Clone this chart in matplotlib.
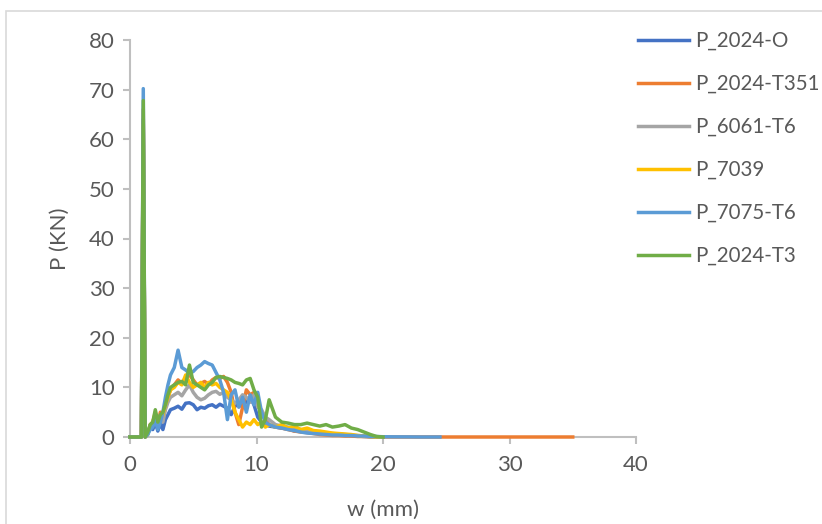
import numpy as np
import matplotlib.pyplot as plt
from matplotlib.patches import Rectangle

# displacement grid shared by most series (mm)
w_base = [0, 0.9, 1.05, 1.2, 1.4, 1.6, 1.8, 2.0, 2.2, 2.4, 2.6, 2.8, 3.0, 3.2, 3.5, 3.8,
          4.1, 4.4, 4.7, 5.0, 5.3, 5.6, 5.9, 6.2, 6.5, 6.8, 7.1, 7.4, 7.7, 8.0, 8.3, 8.6,
          8.9, 9.2, 9.5, 9.8, 10.1, 10.4, 10.7, 11.0, 11.5, 12.0, 12.5, 13.0, 13.5, 14.0,
          14.5, 15.0, 15.5, 16.0, 16.5, 17.0, 17.5, 18.0, 18.5, 19.0, 19.5, 20.0]
w_t351 = w_base + [25.0, 35.0]
w_7075 = w_base + [21.0, 22.0, 23.0, 24.5]

# loads (kN)
p_2024_o = [0, 0, 64, 0, 0.5, 2.5, 1.5, 3.0, 1.2, 2.8, 1.5, 3.5, 4.5, 5.5, 5.8, 6.2,
            5.6, 6.8, 6.9, 6.5, 5.5, 6.0, 5.8, 6.3, 6.5, 6.0, 6.6, 6.2, 5.8, 4.5, 6.2, 6.8,
            6.0, 7.2, 8.0, 6.5, 4.0, 3.0, 2.6, 2.2, 2.0, 1.8, 1.6, 1.2, 1.4, 1.0,
            0.8, 0.9, 0.6, 0.5, 0.6, 0.4, 0.3, 0.2, 0.1, 0.05, 0, 0]
p_2024_t351 = [0, 0, 66, 0, 1.0, 2.0, 3.0, 4.5, 2.5, 5.0, 3.5, 6.0, 8.0, 9.5, 10.5, 11.5,
               10.8, 12.0, 12.5, 11.5, 10.5, 10.8, 11.2, 10.6, 11.5, 12.0, 11.8, 12.2, 11.0, 9.0, 5.0, 2.5,
               6.0, 9.5, 8.5, 9.0, 6.5, 5.0, 3.5, 2.5, 2.0, 1.8, 1.5, 1.2, 1.0, 0.9,
               0.7, 0.5, 0.4, 0.3, 0.3, 0.2, 0.2, 0.1, 0.1, 0.05, 0, 0, 0, 0]
p_6061_t6 = [0, 0, 62, 0, 0.8, 2.0, 2.5, 4.0, 2.0, 4.5, 3.0, 5.5, 7.0, 8.0, 8.5, 9.0,
             8.3, 9.5, 10.5, 9.0, 8.0, 7.5, 7.8, 8.5, 9.0, 9.2, 8.6, 9.0, 8.0, 7.5, 6.8, 7.5,
             8.5, 8.0, 7.0, 8.5, 6.0, 5.5, 4.0, 3.5, 2.5, 2.2, 2.0, 1.8, 1.5, 1.4,
             1.2, 1.0, 0.8, 0.7, 0.6, 0.5, 0.4, 0.3, 0.2, 0.1, 0, 0]
p_7039 = [0, 0, 63, 0, 0.5, 2.5, 3.0, 5.0, 2.0, 4.0, 4.5, 6.5, 8.0, 9.5, 10.0, 11.0,
          10.5, 12.5, 11.0, 10.0, 10.5, 11.0, 10.0, 11.0, 10.5, 10.8, 10.0, 9.5, 9.0, 7.5, 5.0, 3.5,
          2.0, 3.0, 2.5, 3.5, 2.5, 3.0, 2.0, 2.5, 2.0, 2.5, 1.8, 2.2, 1.5, 1.8,
          1.3, 1.2, 1.0, 0.8, 0.7, 0.6, 0.5, 0.3, 0.2, 0.1, 0, 0]
p_7075_t6 = [0, 0, 70.2, 0, 0.5, 1.5, 2.0, 3.5, 1.5, 3.0, 5.0, 8.0, 10.5, 12.5, 14.0, 17.5,
             14.0, 13.5, 12.8, 13.2, 14.0, 14.5, 15.2, 14.8, 14.5, 13.0, 11.5, 9.0, 3.5, 8.5, 9.5, 6.0,
             8.0, 5.0, 8.5, 6.5, 9.0, 5.0, 3.0, 2.5, 2.0, 1.8, 1.5, 1.3, 1.0, 0.8,
             0.7, 0.6, 0.5, 0.4, 0.4, 0.3, 0.3, 0.2, 0.2, 0.1, 0.1, 0.05, 0.03, 0.02, 0, 0]
p_2024_t3 = [0, 0, 67.8, 0, 1.0, 2.5, 3.0, 5.5, 3.0, 4.5, 5.0, 6.5, 8.5, 10.0, 10.5, 11.0,
             11.2, 10.5, 14.5, 11.0, 10.5, 10.0, 9.5, 10.5, 11.0, 12.0, 12.2, 12.0, 11.8, 11.5, 11.0, 10.8,
             10.5, 11.5, 11.8, 9.5, 8.0, 2.0, 3.5, 7.5, 4.0, 3.0, 2.8, 2.5, 2.5, 2.8,
             2.5, 2.2, 2.5, 2.0, 2.2, 2.5, 1.8, 1.5, 1.0, 0.5, 0.1, 0]

labels = ["P_2024-O", "P_2024-T351", "P_6061-T6", "P_7039", "P_7075-T6", "P_2024-T3"]
colors = ["#4472C4", "#ED7D31", "#A5A5A5", "#FFC000", "#5B9BD5", "#70AD47"]
series = [(w_base, p_2024_o), (w_t351, p_2024_t351), (w_base, p_6061_t6),
          (w_base, p_7039), (w_7075, p_7075_t6), (w_base, p_2024_t3)]

plt.rcParams['font.family'] = ['Lato', 'DejaVu Sans']
txt = "#595959"
fs = 16

fig = plt.figure(figsize=(8.22, 5.24), dpi=100)
ax = fig.add_axes([130/822, 1 - 437/524, 506/822, 397/524])

for (w, p), lab, c in zip(series, labels, colors):
    ax.plot(w, p, color=c, lw=2.5, label=lab, solid_joinstyle='round', clip_on=False)

ax.set_xlim(0, 40)
ax.set_ylim(0, 80)
ax.set_xticks(np.arange(0, 41, 10))
ax.set_yticks(np.arange(0, 81, 10))
for s in ["top", "right"]:
    ax.spines[s].set_visible(False)
for s in ["left", "bottom"]:
    ax.spines[s].set_color("#BFBFBF")
    ax.spines[s].set_linewidth(1.5)
    ax.spines[s].set_zorder(1)
ax.tick_params(colors="#BFBFBF", labelcolor=txt, labelsize=fs, length=5, width=1.5)
ax.tick_params(axis='x', pad=8)
ax.tick_params(axis='y', pad=6)
ax.set_xlabel("w (mm)", fontsize=fs, color=txt, labelpad=18)
ax.set_ylabel("P (KN)", fontsize=fs, color=txt, labelpad=14)

lfs = 14.8
fig.legend(loc="upper left", bbox_to_anchor=(638/822, 1 - 31/524), frameon=False,
           fontsize=lfs, labelcolor=txt, handlelength=2.5, handletextpad=0.3,
           labelspacing=1.12, borderaxespad=0, borderpad=0)

# chart area frame
fig.patches.append(Rectangle((6/822, -0.05), 1.1, 1 - 11/524 + 0.05, transform=fig.transFigure,
                             fill=False, edgecolor="#D9D9D9", lw=1.2))

fig.savefig("out.png", dpi=100)
